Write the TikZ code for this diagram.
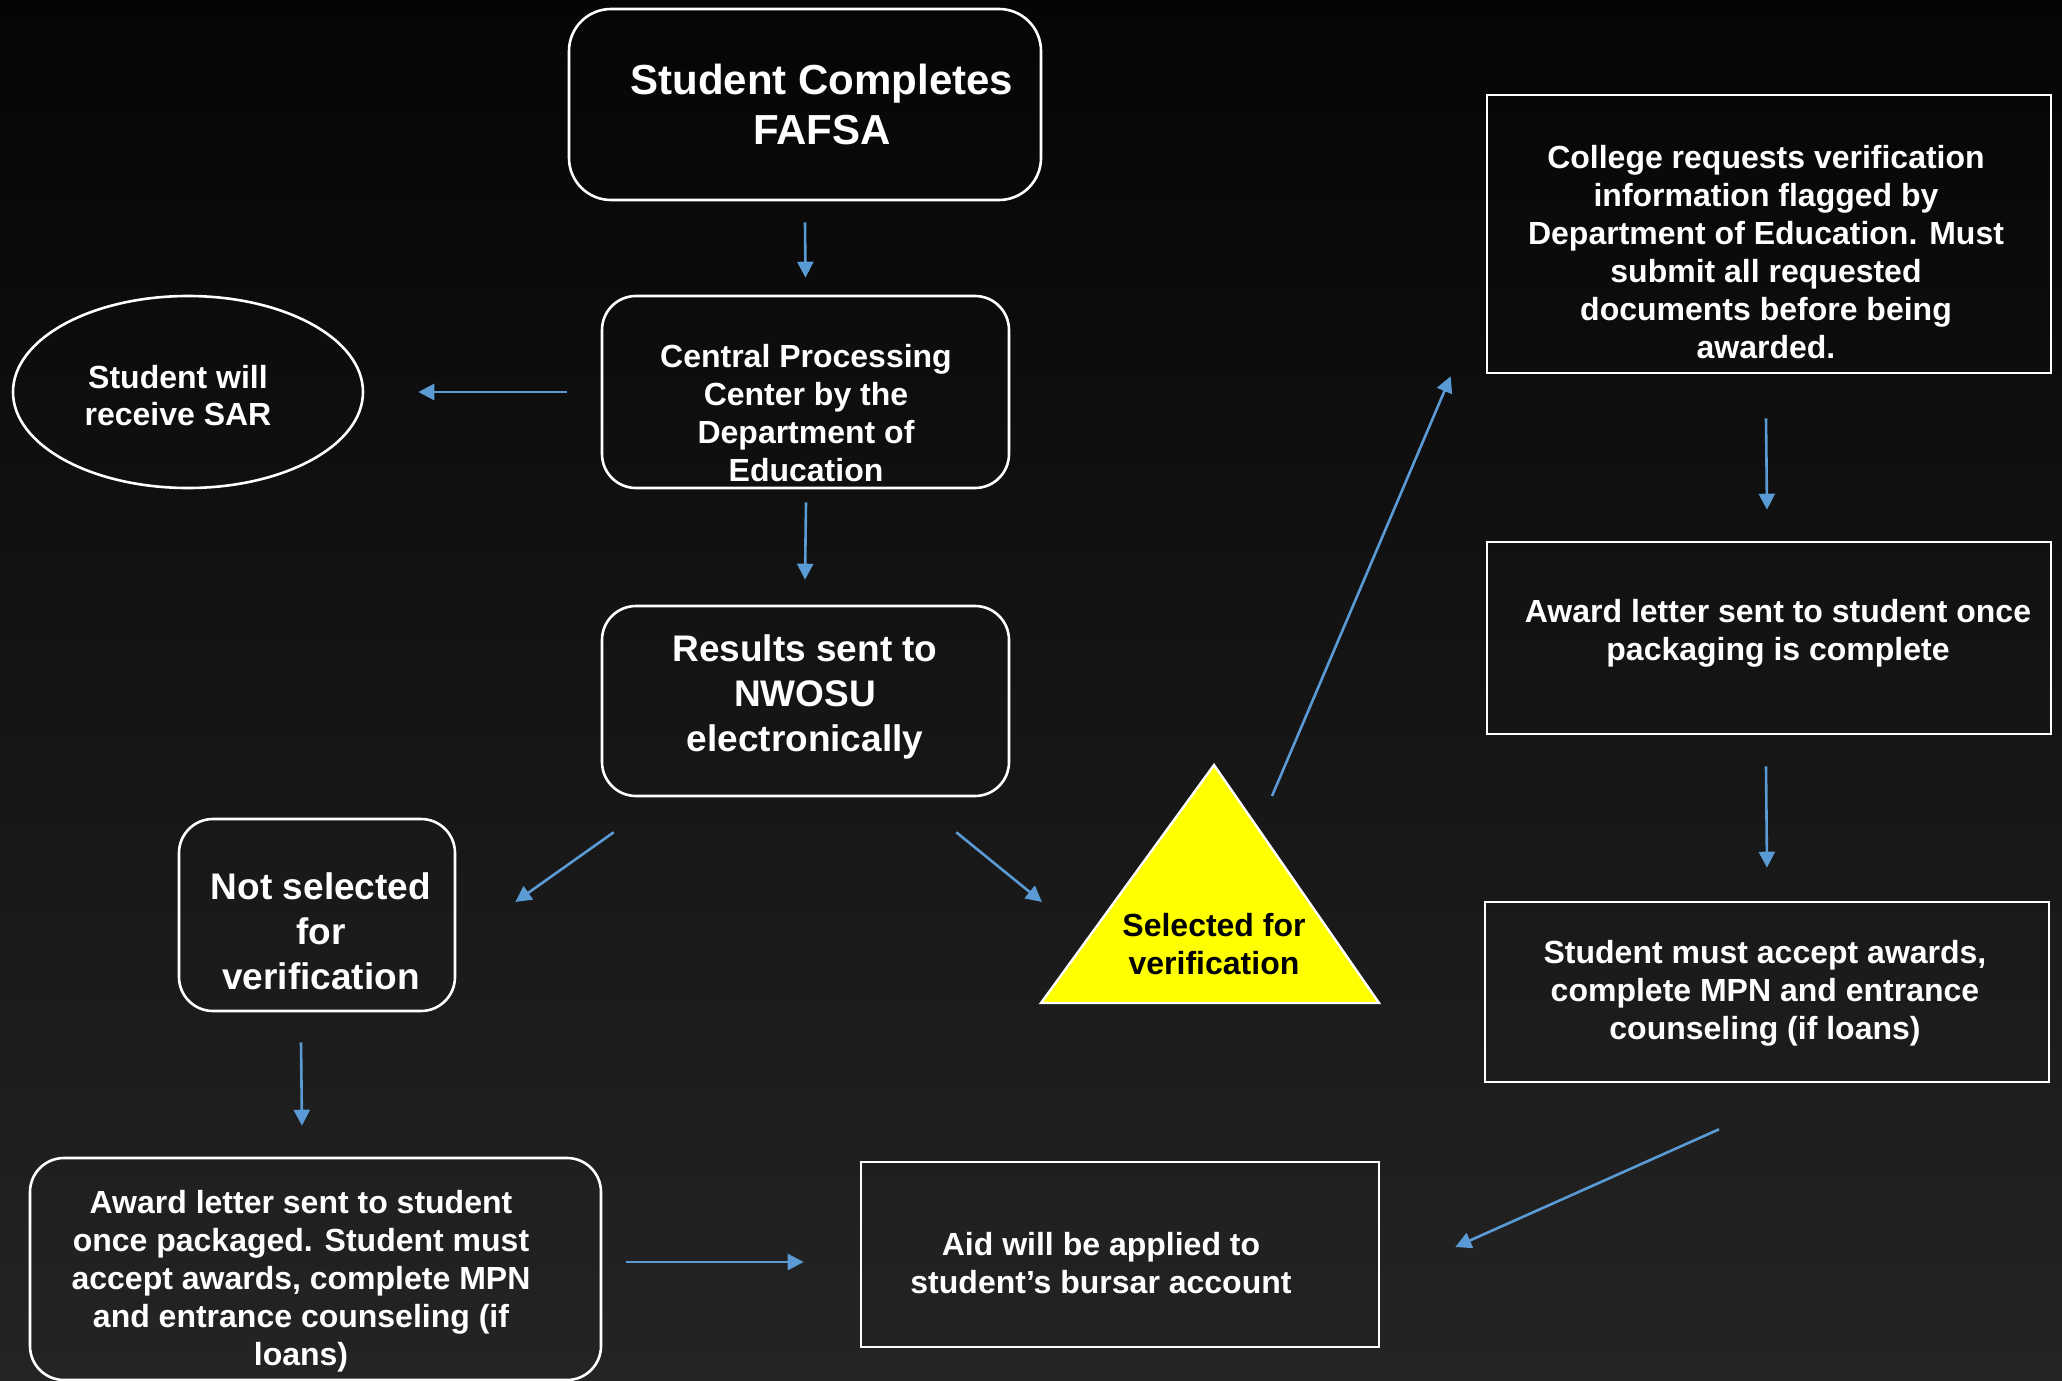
\documentclass[tikz,border=0pt]{standalone}
\usepackage{fontspec}
\setmainfont{Liberation Sans}
\usetikzlibrary{arrows.meta,shapes.geometric}
\definecolor{arrowblue}{RGB}{91,155,213}
\definecolor{bgtop}{RGB}{5,5,5}
\definecolor{bgbot}{RGB}{36,36,36}
\definecolor{triyellow}{RGB}{255,255,0}
\begin{document}
\begin{tikzpicture}[x=1pt,y=-1pt,
  box/.style={draw=white,line width=2.6pt,rectangle,inner sep=0pt},
  rbox/.style={box,rounded corners=34pt},
  txt/.style={text=white,font=\fontsize{32}{38}\selectfont\bfseries,align=center,inner sep=0pt},
  bigtxt/.style={txt,font=\fontsize{37}{45}\selectfont\bfseries},
  titletxt/.style={txt,font=\fontsize{42}{50}\selectfont\bfseries},
  arr/.style={draw=arrowblue,line width=2.6pt,-{Triangle[length=16pt,width=16pt]}}]
\useasboundingbox (0,0) rectangle (2062,1381);
\shade[top color=bgtop,bottom color=bgbot] (0,0) rectangle (2062,1381);

% boxes
\node[rbox,rounded corners=42pt,minimum width=472pt,minimum height=191pt] (fafsa) at (805,104.5) {};
\node[rbox,minimum width=407pt,minimum height=192pt] (cpc) at (805.5,392) {};
\node[rbox,minimum width=407pt,minimum height=190pt] (results) at (805.5,701) {};
\node[rbox,minimum width=276pt,minimum height=192pt] (notsel) at (317,915) {};
\node[rbox,minimum width=571pt,minimum height=222pt] (award1) at (315.5,1269) {};
\node[box,minimum width=518pt,minimum height=185pt] (aid) at (1120,1254.5) {};
\node[box,minimum width=564pt,minimum height=278pt] (college) at (1769,234) {};
\node[box,minimum width=564pt,minimum height=192pt] (award2) at (1769,638) {};
\node[box,minimum width=564pt,minimum height=180pt] (accept) at (1767,992) {};
\node[ellipse,draw=white,line width=2.6pt,inner sep=0pt,minimum width=350pt,minimum height=192pt] (sar) at (188,392) {};

% triangle
\coordinate (triA) at (1214,765);
\coordinate (triL) at (1041,1003);
\coordinate (triR) at (1379,1003);
\draw[draw=white,line width=2.4pt,fill=triyellow,line join=miter] (triA) -- (triL) -- (triR) -- cycle;

% texts
\node[titletxt] (fafsaT) at (822,104) {Student Completes\\FAFSA};
\node[txt] (cpcT) at (806,413) {Central Processing\\Center by the\\Department of\\Education};
\node[txt,font=\fontsize{32}{37}\selectfont\bfseries] (sarT) at (178,396) {Student will\\receive SAR};
\node[bigtxt] (resultsT) at (805,697) {Results sent to\\NWOSU\\electronically};
\node[bigtxt] (notselT) at (321,931) {Not selected\\for\\verification};
\node[txt,text=black] (selT) at (1214,944) {Selected for\\verification};
\node[txt] (collegeT) at (1766,252) {College requests verification\\information flagged by\\Department of Education. Must\\submit all requested\\documents before being\\awarded.};
\node[txt] (award2T) at (1778,633) {Award letter sent to student once\\packaging is complete};
\node[txt] (acceptT) at (1765,993) {Student must accept awards,\\complete MPN and entrance\\counseling (if loans)};
\node[txt] (aidT) at (1101,1263) {Aid will be applied to\\student’s bursar account};
\node[txt] (award1T) at (301,1281) {Award letter sent to student\\once packaged. Student must\\accept awards, complete MPN\\and entrance counseling (if\\loans)};

% connectors
\draw[arr] ([shift={(0,21)}]fafsa.south) -- ([shift={(0,-17)}]cpc.north);
\draw[arr] ([shift={(-34,0)}]cpc.west) -- ([shift={(54,0)}]sar.east);
\draw[arr] ([shift={(0.5,13)}]cpc.south) -- ([shift={(-0.5,-25)}]results.north);
\draw[arr] ([shift={(13,35)}]results.south west) -- ([shift={(59,-13)}]notsel.east);
\draw[arr] ([shift={(-54,35)}]results.south east) -- ([shift={(1,-101)}]triL);
\draw[arr] ([shift={(58,31)}]triA) -- ([shift={(-35,2)}]college.south west);
\draw[arr] ([shift={(-3,44)}]college.south) -- ([shift={(-2,-31)}]award2.north);
\draw[arr] ([shift={(-3,31)}]award2.south) -- ([shift={(0,-33)}]accept.north);
\draw[arr] ([shift={(-48,46)}]accept.south) -- ([shift={(75,-7.5)}]aid.east);
\draw[arr] ([shift={(-16,30)}]notsel.south) -- ([shift={(-13.5,-31)}]award1.north);
\draw[arr] ([shift={(24,-7)}]award1.east) -- ([shift={(-56,7.5)}]aid.west);
\end{tikzpicture}
\end{document}
